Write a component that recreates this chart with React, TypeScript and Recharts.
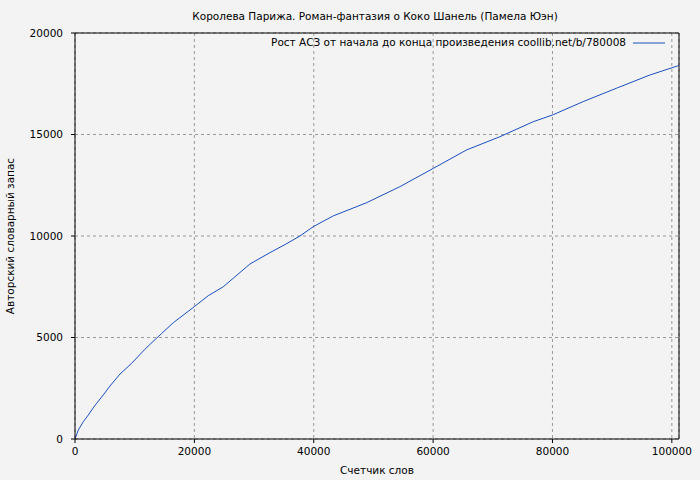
import React from "react";
import {
  LineChart,
  Line,
  XAxis,
  YAxis,
  CartesianGrid,
  ReferenceLine,
  Label,
} from "recharts";

const words = [
  0, 550, 1390, 2230, 2800, 3630, 4740, 5860, 7540, 9500, 11720, 12560,
  14520, 16470, 20000, 22330, 24840, 26520, 29310, 32660, 35200, 37690, 39920,
  43270, 48860, 54440, 60020, 65610, 71190, 76770, 80000, 85140, 90730, 96310,
  101200,
];
const vocab = [
  0, 440, 852, 1180, 1430, 1760, 2170, 2610, 3200, 3730, 4420, 4660,
  5200, 5730, 6520, 7060, 7500, 7920, 8620, 9180, 9580, 10000, 10460, 10990,
  11640, 12430, 13330, 14240, 14890, 15630, 15960, 16620, 17280, 17930, 18400,
];
const xTicks = [0, 20000, 40000, 60000, 80000, 100000];
const yTicks = [0, 5000, 10000, 15000, 20000];

const title = "Королева Парижа. Роман-фантазия о Коко Шанель (Памела Юэн)";
const legendText = "Рост АСЗ от начала до конца произведения coollib.net/b/780008";

const data = words.map((w, i) => ({ words: w, vocab: vocab[i] }));

const font = "'DejaVu Sans', sans-serif";
const fontSize = 10.5;
const lineColor = "#1a4fbf";
const textStyle = { fill: "#000", fontFamily: font, fontSize };

const App = () => {
  return (
    <div
      style={{
        position: "absolute",
        left: 0,
        top: 0,
        width: 700,
        height: 480,
        background: "#f3f3f3",
      }}
    >
      <LineChart
        width={700}
        height={480}
        data={data}
        margin={{ top: 33, right: 21, bottom: 11, left: 15 }}
      >
        <text x={375} y={20} textAnchor="middle" {...textStyle}>
          {title}
        </text>
        {/* legend drawn by hand so it does not shift the plot */}
        <text x={626} y={46} textAnchor="end" {...textStyle}>
          {legendText}
        </text>
        <line x1={633} y1={43} x2={665} y2={43} stroke={lineColor} />
        <CartesianGrid stroke="#999" strokeDasharray="3 3" />
        <XAxis
          dataKey="words"
          type="number"
          domain={[0, 101200]}
          ticks={xTicks}
          allowDataOverflow
          stroke="#000"
          tickSize={4}
          tickMargin={5}
          tick={textStyle}
        >
          <Label
            value="Счетчик слов"
            position="insideBottom"
            offset={-5}
            style={textStyle}
          />
        </XAxis>
        <YAxis
          dataKey="vocab"
          type="number"
          domain={[0, 20000]}
          ticks={yTicks}
          width={60}
          stroke="#000"
          tickSize={4}
          tickMargin={8}
          tick={textStyle}
        >
          <Label
            value="Авторский словарный запас"
            angle={-90}
            position="insideLeft"
            offset={-5}
            style={{ ...textStyle, textAnchor: "middle" }}
          />
        </YAxis>
        <ReferenceLine y={20000} stroke="#000" />
        <ReferenceLine x={101200} stroke="#000" />
        <Line
          type="linear"
          dataKey="vocab"
          stroke={lineColor}
          strokeWidth={1}
          dot={false}
          isAnimationActive={false}
        />
      </LineChart>
    </div>
  );
};

export default App;
